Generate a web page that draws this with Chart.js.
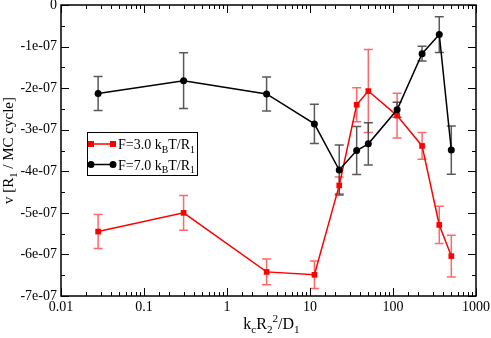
<!DOCTYPE html>
<html>
<head>
<meta charset="utf-8">
<script src="https://cdn.jsdelivr.net/npm/chart.js@4"></script>
<style>
  html, body { margin: 0; padding: 0; background: #fff; }
  #wrap { width: 491px; height: 338px; }
</style>
</head>
<body>
<div id="wrap"><canvas id="chart" width="491" height="338"></canvas></div>
<script>
// k_c R_2^2 / D_1 values (shared by both series)
const xVals = [0.028, 0.3, 3, 11.3, 22.5, 36.5, 50.4, 112, 224, 361, 504];

// F = 3.0 kBT/R1
const redY   = [-5.45e-7, -5.0e-7, -6.42e-7, -6.49e-7, -4.34e-7, -2.40e-7, -2.07e-7, -2.66e-7, -3.39e-7, -5.29e-7, -6.04e-7];
const redErr = [0.41e-7, 0.42e-7, 0.31e-7, 0.33e-7, 0.20e-7, 0.41e-7, 1.00e-7, 0.54e-7, 0.32e-7, 0.45e-7, 0.50e-7];

// F = 7.0 kBT/R1
const blackY   = [-2.13e-7, -1.82e-7, -2.14e-7, -2.86e-7, -3.97e-7, -3.50e-7, -3.34e-7, -2.52e-7, -1.17e-7, -0.71e-7, -3.49e-7];
const blackErr = [0.41e-7, 0.67e-7, 0.41e-7, 0.47e-7, 0.60e-7, 0.58e-7, 0.51e-7, 0.18e-7, 0.18e-7, 0.43e-7, 0.58e-7];

const xTicks = [0.01, 0.1, 1, 10, 100, 1000];
const legendLabels = [
  [['F=3.0 k', 0], ['B', 1], ['T/R', 0], ['1', 1]],
  [['F=7.0 k', 0], ['B', 1], ['T/R', 0], ['1', 1]]
];

const SERIF = "'Liberation Serif', 'DejaVu Serif', serif";

function pts(ys) {
  return xVals.map((x, i) => ({ x: x, y: ys[i] }));
}

// draw text pieces with sub (1) / super (2) script
function richText(ctx, parts, x, y, size) {
  let cx = x;
  parts.forEach(([t, mode]) => {
    const s = mode ? size * 0.7 : size;
    const dy = mode === 1 ? size * 0.28 : mode === 2 ? -size * 0.45 : 0;
    ctx.font = s + 'px ' + SERIF;
    ctx.fillText(t, cx, y + dy);
    cx += ctx.measureText(t).width;
  });
  return cx - x;
}
function richWidth(ctx, parts, size) {
  let w = 0;
  parts.forEach(([t, mode]) => {
    ctx.font = (mode ? size * 0.7 : size) + 'px ' + SERIF;
    w += ctx.measureText(t).width;
  });
  return w;
}

// ── error bars under the datasets ──
const errorBars = {
  id: 'errorBars',
  beforeDatasetsDraw(chart) {
    const ctx = chart.ctx;
    const yScale = chart.scales.y;
    chart.data.datasets.forEach((ds, di) => {
      const meta = chart.getDatasetMeta(di);
      ctx.save();
      ctx.strokeStyle = ds.errColor;
      ctx.lineWidth = 1.5;
      meta.data.forEach((el, i) => {
        const y = ds.data[i].y, e = ds.errs[i];
        const top = yScale.getPixelForValue(y + e);
        const bot = yScale.getPixelForValue(y - e);
        ctx.beginPath();
        ctx.moveTo(el.x, top); ctx.lineTo(el.x, bot);
        ctx.moveTo(el.x - 4.5, top); ctx.lineTo(el.x + 4.5, top);
        ctx.moveTo(el.x - 4.5, bot); ctx.lineTo(el.x + 4.5, bot);
        ctx.stroke();
      });
      ctx.restore();
    });
  }
};

// ── frame, inward ticks, axis titles, legend ──
const decor = {
  id: 'decor',
  afterDraw(chart) {
    const ctx = chart.ctx;
    const a = chart.chartArea;
    const xs = chart.scales.x, ys = chart.scales.y;
    ctx.save();
    ctx.strokeStyle = '#000';
    ctx.lineWidth = 1.5;
    ctx.strokeRect(a.left, a.top, a.right - a.left, a.bottom - a.top);

    ctx.lineWidth = 1;
    ctx.beginPath();
    xs.ticks.forEach(t => {
      const l = Math.log10(t.value);
      const major = Math.abs(l - Math.round(l)) < 1e-6;
      const len = major ? 8 : 4;
      const px = Math.round(xs.getPixelForValue(t.value)) + 0.5;
      ctx.moveTo(px, a.bottom); ctx.lineTo(px, a.bottom - len);
      ctx.moveTo(px, a.top); ctx.lineTo(px, a.top + len);
    });
    ys.ticks.forEach((t, i) => {
      const py = Math.round(ys.getPixelForValue(t.value)) + 0.5;
      ctx.moveTo(a.left, py); ctx.lineTo(a.left + 8, py);
      ctx.moveTo(a.right, py); ctx.lineTo(a.right - 8, py);
      if (i < ys.ticks.length - 1) {
        const mid = Math.round(ys.getPixelForValue((t.value + ys.ticks[i + 1].value) / 2)) + 0.5;
        ctx.moveTo(a.left, mid); ctx.lineTo(a.left + 4, mid);
        ctx.moveTo(a.right, mid); ctx.lineTo(a.right - 4, mid);
      }
    });
    ctx.stroke();

    // axis titles
    ctx.fillStyle = '#000';
    ctx.textBaseline = 'alphabetic';
    ctx.textAlign = 'left';
    const xt = [['k', 0], ['c', 1], ['R', 0], ['2', 1], ['2', 2], ['/D', 0], ['1', 1]];
    const xw = richWidth(ctx, xt, 16);
    richText(ctx, xt, (a.left + a.right) / 2 + 3 - xw / 2, 329, 16);

    const yt = [['v [R', 0], ['1', 1], [' / MC cycle]', 0]];
    const yw = richWidth(ctx, yt, 15);
    ctx.save();
    ctx.translate(13, (a.top + a.bottom) / 2);
    ctx.rotate(-Math.PI / 2);
    richText(ctx, yt, -yw / 2, 0, 15);
    ctx.restore();

    // legend
    const lx = 87.5, ly = 132.5, lw = 110, lh = 43;
    ctx.fillStyle = '#fff';
    ctx.fillRect(lx, ly, lw, lh);
    ctx.strokeStyle = '#000';
    ctx.lineWidth = 1;
    ctx.strokeRect(lx, ly, lw, lh);
    chart.data.datasets.forEach((ds, i) => {
      const ry = 144 + i * 20.5;
      ctx.strokeStyle = ds.borderColor;
      ctx.fillStyle = ds.borderColor;
      ctx.lineWidth = 1.5;
      ctx.beginPath();
      ctx.moveTo(91, ry); ctx.lineTo(113, ry);
      ctx.stroke();
      [91, 113].forEach(px => {
        if (ds.pointStyle === 'rect') {
          ctx.fillRect(px - 3, ry - 3, 6, 6);
        } else {
          ctx.beginPath();
          ctx.arc(px, ry, 3.5, 0, Math.PI * 2);
          ctx.fill();
        }
      });
      ctx.fillStyle = '#000';
      richText(ctx, legendLabels[i], 118, ry + 5, 14);
    });
    ctx.restore();
  }
};

new Chart(document.getElementById('chart'), {
  type: 'scatter',
  data: {
    datasets: [{
      label: 'F=3.0 kBT/R1',
      data: pts(redY),
      errs: redErr,
      errColor: 'rgba(255, 40, 40, 0.7)',
      showLine: true,
      borderColor: '#ff0000',
      backgroundColor: '#ff0000',
      borderWidth: 1.5,
      pointStyle: 'rect',
      pointRadius: 4,
      pointBorderWidth: 0,
      order: 1
    }, {
      label: 'F=7.0 kBT/R1',
      data: pts(blackY),
      errs: blackErr,
      errColor: 'rgba(60, 60, 60, 0.85)',
      showLine: true,
      borderColor: '#000000',
      backgroundColor: '#000000',
      borderWidth: 1.5,
      pointStyle: 'circle',
      pointRadius: 3.5,
      pointBorderWidth: 0,
      order: 0
    }]
  },
  options: {
    responsive: false,
    animation: false,
    layout: { padding: { top: 5, right: 15, left: 0, bottom: 0 } },
    plugins: {
      legend: { display: false },
      tooltip: { enabled: false }
    },
    scales: {
      x: {
        type: 'logarithmic',
        min: 0.01,
        max: 1000,
        grid: { display: false, drawTicks: false },
        border: { display: false },
        ticks: {
          autoSkip: false,
          maxRotation: 0,
          padding: 3,
          color: '#000',
          font: { family: SERIF, size: 14 },
          callback: v => xTicks.some(t => Math.abs(t - v) / t < 1e-6) ? String(v) : ''
        },
        afterFit: s => { s.height = 42; s.paddingLeft = 0; s.paddingRight = 0; }
      },
      y: {
        min: -7e-7,
        max: 0,
        grid: { display: false, drawTicks: false },
        border: { display: false },
        ticks: {
          stepSize: 1e-7,
          padding: 4,
          color: '#000',
          font: { family: SERIF, size: 14 },
          callback: v => {
            const n = Math.round(v / 1e-7);
            return n === 0 ? '0' : (n < 0 ? '-' : '') + Math.abs(n) + 'e-07';
          }
        },
        afterFit: s => { s.width = 61; s.paddingTop = 0; s.paddingBottom = 0; }
      }
    }
  },
  plugins: [errorBars, decor]
});
</script>
</body>
</html>
